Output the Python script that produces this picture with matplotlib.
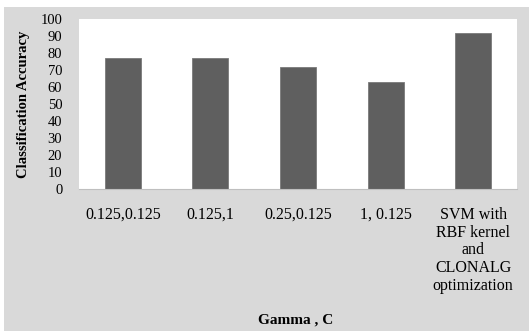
import matplotlib.pyplot as plt
from matplotlib.patches import Rectangle

categories = ['0.125,0.125', '0.125,1', '0.25,0.125', '1, 0.125',
              'SVM with\nRBF kernel\nand\nCLONALG\noptimization']
accuracy = [77.2, 77.2, 71.9, 62.7, 91.6]
yticks = list(range(0, 101, 10))

plt.rcParams['font.family'] = ['Liberation Serif', 'DejaVu Serif']

W, H = 529, 331
fig = plt.figure(figsize=(W / 100, H / 100), dpi=100, facecolor='white')
fig.patches.append(Rectangle((4 / W, 0), 1, 1 - 7 / H, transform=fig.transFigure,
                             facecolor='#d9d9d9', edgecolor='none', zorder=-10))

ax = fig.add_axes([79 / W, 1 - 189 / H, (517 - 79) / W, (189 - 19) / H])
ax.set_facecolor('white')
ax.bar(range(len(categories)), accuracy, width=0.41, color='#5f5f5f',
       edgecolor='#7a7a7a', linewidth=0.6)
ax.set_xlim(-0.5, len(categories) - 0.5)
ax.set_ylim(0, 100)
ax.set_yticks(yticks)
ax.set_yticklabels([str(t) for t in yticks], fontsize=10.5)
ax.set_xticks(range(len(categories)))
ax.set_xticklabels(categories, fontsize=11.5, linespacing=1.14)
ax.tick_params(axis='x', length=0, pad=13)
ax.tick_params(axis='y', length=0, pad=12)
for s in ax.spines.values():
    s.set_visible(False)
ax.spines['bottom'].set_visible(True)
ax.spines['bottom'].set_color('#bfbfbf')

ax.set_ylabel('Classification Accuracy', fontsize=10.5, fontweight='bold')
ax.yaxis.set_label_coords(-0.112, 0.5)
fig.text(296 / W, 1 - 320 / H, 'Gamma , C', fontsize=11, fontweight='bold',
         ha='center', va='center')

fig.savefig('out.png', dpi=100, facecolor=fig.get_facecolor())
